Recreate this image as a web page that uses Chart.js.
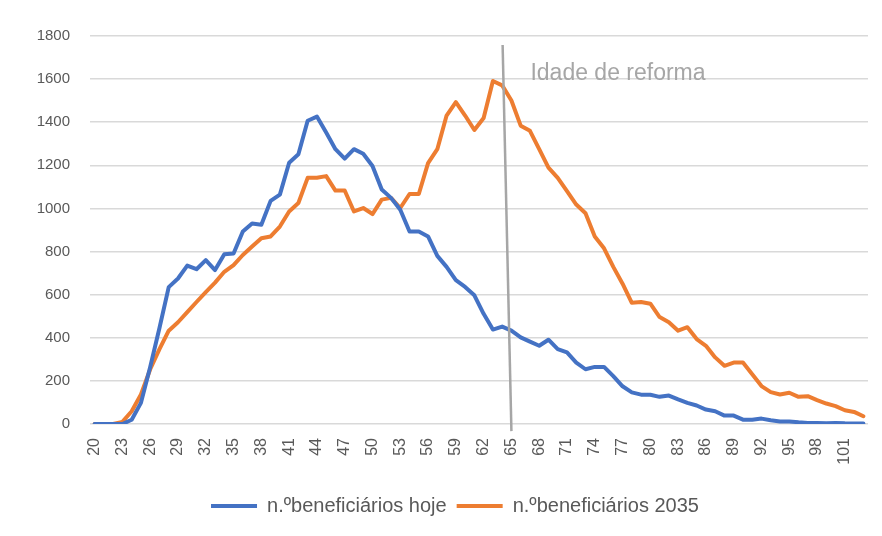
<!DOCTYPE html>
<html>
<head>
<meta charset="utf-8">
<script src="https://cdn.jsdelivr.net/npm/chart.js@4/dist/chart.umd.min.js"></script>
<style>
  html, body { margin: 0; padding: 0; background: #ffffff; }
  #wrap { width: 882px; height: 536px; position: relative; }
</style>
</head>
<body>
<div id="wrap"><canvas id="c" width="882" height="536"></canvas></div>
<script>
const ages = ['20','21','22','23','24','25','26','27','28','29','30','31','32','33','34','35','36','37','38','39','40',
  '41','42','43','44','45','46','47','48','49','50','51','52','53','54','55','56','57','58','59','60',
  '61','62','63','64','65','66','67','68','69','70','71','72','73','74','75','76','77','78','79','80',
  '81','82','83','84','85','86','87','88','89','90','91','92','93','94','95','96','97','98','99','100',
  '101','102','103'];

const beneficiariosHoje = [0,0,0,0,20,98,265,445,635,675,735,718,760,714,787,791,893,930,924,1035,1064,
  1212,1251,1407,1426,1352,1275,1231,1275,1254,1197,1088,1049,994,893,893,870,780,729,667,636,
  597,511,438,452,433,402,382,363,391,347,332,285,254,265,265,222,175,147,136,136,
  126,132,114,98,86,67,59,39,39,20,20,25,17,12,12,8,5,5,3,5,
  3,2,2];

const beneficiarios2035 = [0,0,0,10,59,137,254,347,433,472,519,566,612,656,706,737,784,823,862,870,916,
  986,1025,1142,1142,1150,1083,1083,986,1002,974,1041,1049,1002,1067,1067,1210,1275,1431,1493,1431,
  1364,1420,1591,1571,1501,1384,1360,1275,1189,1142,1080,1018,978,870,815,729,651,562,566,558,
  496,472,433,449,394,363,309,270,285,285,231,176,148,137,145,126,129,111,95,83,
  64,56,36];

const yTicks = [0,200,400,600,800,1000,1200,1400,1600,1800];
const seriesNames = ['n.ºbeneficiários hoje', 'n.ºbeneficiários 2035'];
const refAge = '65';
const refLabel = 'Idade de reforma';
const refLineTopValue = 1758;
const refLineBottomValue = -33;
const refLabelValue = 1594;

const refPlugin = {
  id: 'refLine',
  afterLayout(chart) {
    if (chart.legend) { chart.legend.left += 42; }
  },
  afterDatasetsDraw(chart) {
    const x = chart.scales.x, y = chart.scales.y;
    const ctx = chart.ctx;
    const idx = ages.indexOf(refAge);
    const xb = x.getPixelForValue(idx);
    const step = x.getPixelForValue(1) - x.getPixelForValue(0);
    const xt = xb - step * 0.95;
    ctx.save();
    ctx.strokeStyle = '#a6a6a6';
    ctx.lineWidth = 2.5;
    ctx.beginPath();
    ctx.moveTo(xt, y.getPixelForValue(refLineTopValue));
    ctx.lineTo(xb, y.getPixelForValue(refLineBottomValue));
    ctx.stroke();
    ctx.fillStyle = '#a6a6a6';
    ctx.font = '23px "Liberation Sans", Arial, sans-serif';
    ctx.textBaseline = 'alphabetic';
    ctx.textAlign = 'left';
    ctx.fillText(refLabel, xb + step * 2.05, y.getPixelForValue(refLabelValue));
    ctx.restore();
  }
};

const ctx = document.getElementById('c').getContext('2d');
new Chart(ctx, {
  type: 'line',
  data: {
    labels: ages,
    datasets: [
      { label: seriesNames[0], data: beneficiariosHoje, borderColor: '#4472C4', backgroundColor: '#4472C4',
        borderWidth: 4, pointRadius: 0, tension: 0, borderCapStyle: 'round', borderJoinStyle: 'round' },
      { label: seriesNames[1], data: beneficiarios2035, borderColor: '#ED7D31', backgroundColor: '#ED7D31',
        borderWidth: 4, pointRadius: 0, tension: 0, borderCapStyle: 'round', borderJoinStyle: 'round' }
    ]
  },
  options: {
    responsive: false,
    animation: false,
    layout: { padding: { left: 0, right: 14, top: 36, bottom: 10 } },
    plugins: {
      legend: {
        position: 'bottom',
        labels: {
          usePointStyle: true,
          pointStyle: 'line',
          pointStyleWidth: 46,
          color: '#595959',
          padding: 10,
          font: { family: '"Liberation Sans", Arial, sans-serif', size: 20 }
        }
      },
      tooltip: { enabled: false }
    },
    scales: {
      x: {
        offset: true,
        grid: { display: false, drawTicks: false },
        border: { display: false },
        afterFit(s) { s.height = 62; },
        ticks: {
          autoSkip: false,
          maxRotation: 90,
          minRotation: 90,
          padding: 14,
          color: '#595959',
          font: { family: '"Liberation Sans", Arial, sans-serif', size: 16 },
          callback(v, i) { return i % 3 === 0 ? ages[i] : null; }
        }
      },
      y: {
        min: 0,
        max: 1800,
        afterFit(s) { s.width = 90; },
        afterBuildTicks(s) { s.ticks = yTicks.map(v => ({ value: v })); },
        grid: { color: '#d9d9d9', lineWidth: 1.5, drawTicks: false },
        border: { display: false },
        ticks: {
          padding: 20,
          color: '#595959',
          font: { family: '"Liberation Sans", Arial, sans-serif', size: 15 },
          callback(v) { return String(v); }
        }
      }
    }
  },
  plugins: [refPlugin]
});
</script>
</body>
</html>
